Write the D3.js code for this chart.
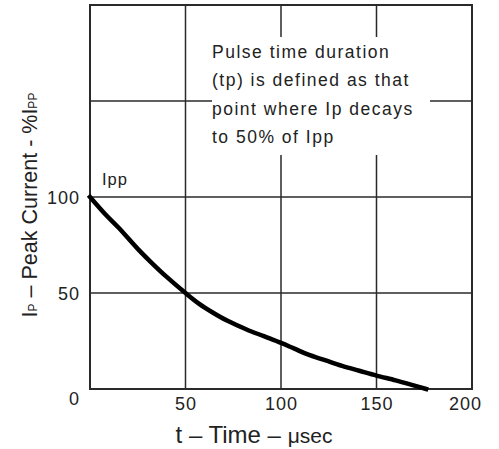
<!DOCTYPE html>
<html><head><meta charset="utf-8">
<script src="https://cdn.jsdelivr.net/npm/d3@7"></script>
<style>body{margin:0;background:#fff}svg{display:block}text{font-family:"Liberation Sans",Arial,sans-serif;fill:#222}</style>
</head><body><svg id="c" width="499" height="449"></svg>
<script>
const timeUs = [0,8,15,25,32,40,50,57,64,72,82,91,100,107,114,123,132,141,150,160,168,176];
const currentPct = [100,91,84,73,66,58.5,50,44.5,40,35.5,31,27.5,24,21,18,15,12,9.5,7,4.5,2.3,0];
const xTicks = [50,100,150,200];
const yTicks = [0,50,100];
const gridX = [50,100,150];
const gridY = [50,100,150];
const noteLines = ["Pulse time duration","(tp) is defined as that","point where Ip decays","to 50% of Ipp"];

const svg = d3.select("#c");
const L=90,R=472,T=5,B=389;
const x = d3.scaleLinear().domain([0,200]).range([L,R]);
const y = d3.scaleLinear().domain([0,200]).range([B,T]);
const gc = "#2a2a2a";

svg.append("rect").attr("width",499).attr("height",449).attr("fill","#fff");
const g = svg.append("g");
g.selectAll(".gx").data(gridX).join("line").attr("x1",d=>x(d)).attr("x2",d=>x(d)).attr("y1",T).attr("y2",B).attr("stroke",gc).attr("stroke-width",1.5);
g.selectAll(".gy").data(gridY).join("line").attr("y1",d=>y(d)).attr("y2",d=>y(d)).attr("x1",L).attr("x2",R).attr("stroke",gc).attr("stroke-width",1.5);
// note box masks grid
svg.append("rect").attr("x",212).attr("y",37).attr("width",218).attr("height",118).attr("fill","#fff");
svg.append("rect").attr("x",L).attr("y",T).attr("width",R-L).attr("height",B-T).attr("fill","none").attr("stroke",gc).attr("stroke-width",2);

// curve
svg.append("path").datum(timeUs.map((t,i)=>[t,currentPct[i]]))
  .attr("d",d3.line().x(d=>x(d[0])).y(d=>y(d[1])).curve(d3.curveCatmullRom))
  .attr("fill","none").attr("stroke","#000").attr("stroke-width",4.5).attr("stroke-linecap","square");

// y ticks
const yAx = svg.append("g").attr("transform",`translate(${L},0)`).call(d3.axisLeft(y).tickValues(yTicks).tickSize(0).tickPadding(10));
yAx.select(".domain").remove();
yAx.selectAll("text").attr("font-size",18).attr("letter-spacing",1).attr("fill","#222").attr("font-family","Liberation Sans, Arial, sans-serif")
  .attr("dy",d=>d===0?"0.85em":"0.35em").attr("x",-10);
// x ticks
const xAx = svg.append("g").attr("transform",`translate(0,${B})`).call(d3.axisBottom(x).tickValues(xTicks).tickSize(0).tickPadding(8));
xAx.select(".domain").remove();
xAx.selectAll("text").attr("font-size",18).attr("letter-spacing",1).attr("fill","#222").attr("font-family","Liberation Sans, Arial, sans-serif")
  .attr("dx",d=>d===200?-7:0);

// note
svg.append("g").selectAll("text").data(noteLines).join("text")
  .attr("x",212).attr("y",(d,i)=>58+i*28.4).attr("font-size",17.5).attr("letter-spacing",1.5).text(d=>d);
svg.append("text").attr("x",102).attr("y",185).attr("font-size",16.5).attr("letter-spacing",1).text("Ipp");

// axis titles
const xt = svg.append("text").attr("x",254).attr("y",443).attr("text-anchor","middle").attr("font-size",24);
xt.append("tspan").text("t – Time – ");
xt.append("tspan").attr("font-size",21).text("μsec");
const yt = svg.append("text").attr("transform","translate(37,205) rotate(-90)").attr("text-anchor","middle").attr("font-size",21.5);
yt.append("tspan").text("I");
yt.append("tspan").attr("font-size",12).text("P");
yt.append("tspan").text(" – Peak Current - %I");
yt.append("tspan").attr("font-size",12).text("PP");
</script></body></html>
